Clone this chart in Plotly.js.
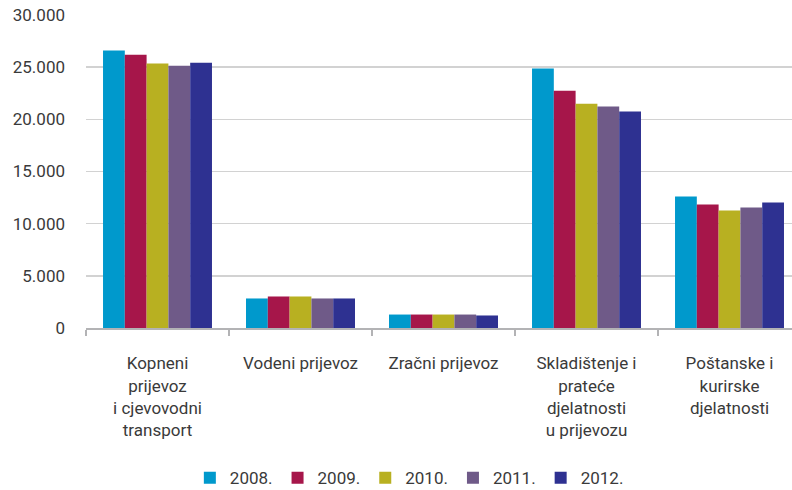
<!DOCTYPE html>
<html>
<head>
<meta charset="utf-8">
<script src="https://cdn.plot.ly/plotly-3.0.1.min.js"></script>
<style>html,body{margin:0;padding:0;background:#fff;}#chart{width:792px;height:490px;}</style>
</head>
<body>
<div id="chart"></div>
<script>
var categories = [
  "Kopneni<br>prijevoz<br>i cjevovodni<br>transport",
  "Vodeni prijevoz",
  "Zračni prijevoz",
  "Skladištenje i<br>prateće<br>djelatnosti<br>u prijevozu",
  "Poštanske i<br>kurirske<br>djelatnosti"
];
var years = ["2008.", "2009.", "2010.", "2011.", "2012."];
var v2008 = [26600, 2830, 1290, 24870, 12600];
var v2009 = [26200, 3020, 1290, 22750, 11830];
var v2010 = [25340, 3020, 1290, 21500, 11260];
var v2011 = [25140, 2830, 1290, 21220, 11540];
var v2012 = [25430, 2830, 1200, 20740, 12020];
var colors = ["#0099CC", "#A6164A", "#B8B021", "#6F5A88", "#2E3191"];

var series = [v2008, v2009, v2010, v2011, v2012];
var traces = series.map(function (vals, i) {
  return {
    type: "bar",
    name: years[i],
    x: categories,
    y: vals,
    marker: {color: colors[i], line: {width: 0}},
    hoverinfo: "skip"
  };
});

var font = {family: "Roboto, 'Open Sans', sans-serif", size: 17, color: "#3a3a3a"};
var layout = {
  width: 792,
  height: 490,
  margin: {l: 86, r: 0, t: 15, b: 161.5, autoexpand: false},
  paper_bgcolor: "#ffffff",
  plot_bgcolor: "#ffffff",
  font: font,
  separators: ",.",
  barmode: "group",
  bargap: 0.238,
  bargroupgap: 0,
  showlegend: true,
  legend: {
    orientation: "h",
    x: 0.458,
    xanchor: "center",
    y: -0.48,
    yanchor: "middle",
    font: font,
    traceorder: "normal"
  },
  xaxis: {
    type: "category",
    range: [-0.5, 4.437],
    showline: true,
    linecolor: "#b3b3b5",
    linewidth: 2,
    ticks: "outside",
    tickson: "boundaries",
    ticklen: 6,
    tickwidth: 2,
    tickcolor: "#b3b3b5",
    showgrid: false,
    ticklabelstandoff: 19,
    tickfont: font,
    fixedrange: true
  },
  yaxis: {
    range: [0, 30000],
    tickvals: [0, 5000, 10000, 15000, 20000, 25000, 30000],
    tickformat: ",d",
    showgrid: true,
    gridcolor: "#d2d2d2",
    gridwidth: 1.5,
    zeroline: false,
    showline: false,
    ticks: "",
    ticklabelstandoff: 20,
    tickfont: font,
    fixedrange: true
  }
};

Plotly.newPlot("chart", traces, layout, {displayModeBar: false, staticPlot: true});
</script>
</body>
</html>
